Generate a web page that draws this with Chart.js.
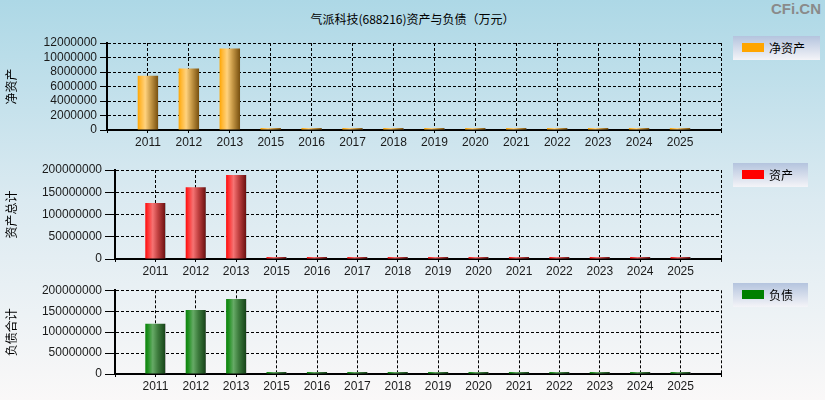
<!DOCTYPE html>
<html>
<head>
<meta charset="utf-8">
<script src="https://cdn.jsdelivr.net/npm/chart.js@4/dist/chart.umd.min.js"></script>
<style>
  html, body { margin: 0; padding: 0; }
  body {
    width: 825px; height: 400px; position: relative; overflow: hidden;
    background: linear-gradient(#add8e6, #dbeaf1 50%, #faf8f8);
    font-family: "Liberation Sans", Arial, sans-serif;
  }
  canvas { position: absolute; left: 0; }
  .title { position: absolute; top: 10px; left: 0; width: 825px; text-align: center;
    font: 12px "Noto Sans CJK SC", sans-serif; color: #000; }
  .mark { position: absolute; top: 0px; right: 4px; font: bold 15px "Liberation Sans", Arial, sans-serif; color: #8a8a8a; }
  .legend { position: absolute; left: 733px; height: 24px;
    background: linear-gradient(#b4c4de, #f4f4f8); }
  .legend i { position: absolute; left: 9px; top: 7px; width: 22px; height: 9px; }
  .legend span { position: absolute; left: 36px; top: 3px; font: 12px "Noto Sans CJK SC", sans-serif; color: #000; }
</style>
</head>
<body>
<div class="title">气派科技(688216)资产与负债（万元）</div>
<div class="mark">CFi.CN</div>
<canvas id="c1" width="825" height="127" style="top:25px"></canvas>
<canvas id="c2" width="825" height="129" style="top:152px"></canvas>
<canvas id="c3" width="825" height="116" style="top:280px"></canvas>
<script>
// years on the x axis (2014 is missing in the source)
const years = ['2011', '2012', '2013', '2015', '2016', '2017', '2018', '2019', '2020', '2021', '2022', '2023', '2024', '2025'];

// net assets / total assets / total liabilities
const netAssets = [7500000, 8500000, 11250000, 18000, 22000, 30000, 38000, 45000, 52000, 95000, 90000, 85000, 72000, 66000];
const totalAssets = [126000000, 161500000, 188700000, 40000, 50000, 65000, 80000, 95000, 110000, 170000, 175000, 180000, 185000, 190000];
const totalDebts = [120000000, 153000000, 179000000, 22000, 28000, 35000, 42000, 50000, 58000, 75000, 85000, 95000, 113000, 124000];

const netTicks = { max: 12000000, step: 2000000 };
const bigTicks = { max: 200000000, step: 50000000 };

const names = ['净资产', '资产', '负债'];
const axisTitles = ['净资产', '资产总计', '负债合计'];

// blank slot before the first and after the last year
const labels = [''].concat(years, ['']);
const pad = arr => [null].concat(arr, [null]);

const orange = [[0, '#ffa500'], [0.12, '#ffb733'], [0.35, '#ffd27e'], [0.6, '#c89a48'], [0.93, '#7c5412'], [0.94, '#6f6f6f'], [1, '#6f6f6f']];
const red = [[0, '#ff0a0a'], [0.12, '#ff3030'], [0.35, '#f57373'], [0.6, '#c04040'], [0.93, '#6e1212'], [0.94, '#6f6f6f'], [1, '#6f6f6f']];
const green = [[0, '#0a840a'], [0.12, '#1e901e'], [0.35, '#66aa66'], [0.6, '#3c7a3c'], [0.93, '#18451a'], [0.94, '#6f6f6f'], [1, '#6f6f6f']];

// left->right shading of each bar, from the x scale
function barFill(stops) {
  return function (ctx) {
    const x = ctx.chart.scales.x;
    if (!x || ctx.type !== 'data') return stops[0][1];
    const c = x.getPixelForValue(ctx.dataIndex);
    const hw = x.width / (labels.length - 1) / 4;
    if (!isFinite(c) || !isFinite(hw) || hw <= 0) return stops[0][1];
    const g = ctx.chart.ctx.createLinearGradient(c - hw, 0, c + hw + 1, 0);
    stops.forEach(s => g.addColorStop(s[0], s[1]));
    return g;
  };
}

function makeChart(id, name, axisTitle, values, fill, ticks, opts) {
  return new Chart(document.getElementById(id), {
    type: 'bar',
    data: {
      labels: labels,
      datasets: [{
        label: name,
        data: pad(values),
        backgroundColor: barFill(fill),
        borderWidth: 0,
        minBarLength: 2,
        categoryPercentage: 1,
        barPercentage: 0.5
      }]
    },
    options: {
      responsive: false,
      animation: false,
      devicePixelRatio: 1,
      events: [],
      layout: { padding: { top: opts.top, right: 104, bottom: 0, left: 0 } },
      plugins: { legend: { display: false }, tooltip: { enabled: false } },
      scales: {
        x: {
          offset: false,
          grid: { offset: false, color: '#000', tickBorderDash: [], tickLength: 3, tickColor: '#000' },
          border: { display: true, color: '#000', width: 2, dash: [3, 2] },
          ticks: { color: '#1a1a1a', padding: 2, maxRotation: 0, autoSkip: false, font: { family: 'Liberation Sans', size: 12 } },
          afterFit: s => { s.height = 22; }
        },
        y: {
          min: 0,
          max: ticks.max,
          grid: { color: '#000', tickBorderDash: [], tickLength: opts.tl, tickColor: '#000' },
          border: { display: true, color: '#000', width: 2, dash: [3, 2] },
          ticks: {
            stepSize: ticks.step, autoSkip: false, color: '#1a1a1a', padding: 3,
            font: { family: 'Liberation Sans', size: 12 },
            callback: v => String(v)
          },
          title: { display: true, text: axisTitle, color: '#000', padding: { top: 4, bottom: 0 },
            font: { family: 'Noto Sans CJK SC', size: 12 } },
          afterFit: s => { s.width = opts.w; }
        }
      }
    }
  });
}

makeChart('c1', names[0], axisTitles[0], netAssets, orange, netTicks, { top: 18, w: 107, tl: 7 });
makeChart('c2', names[1], axisTitles[1], totalAssets, red, bigTicks, { top: 18, w: 115, tl: 10 });
makeChart('c3', names[2], axisTitles[2], totalDebts, green, bigTicks, { top: 10.3, w: 115, tl: 10 });

// legends
const legendSpec = [
  { top: 36, width: 87, color: '#ffa500' },
  { top: 163, width: 75, color: '#ff0000' },
  { top: 283, width: 75, color: '#008000' }
];
legendSpec.forEach((l, i) => {
  const d = document.createElement('div');
  d.className = 'legend';
  d.style.top = l.top + 'px';
  d.style.width = l.width + 'px';
  d.innerHTML = '<i style="background:' + l.color + '"></i><span>' + names[i] + '</span>';
  document.body.appendChild(d);
});
</script>
</body>
</html>
